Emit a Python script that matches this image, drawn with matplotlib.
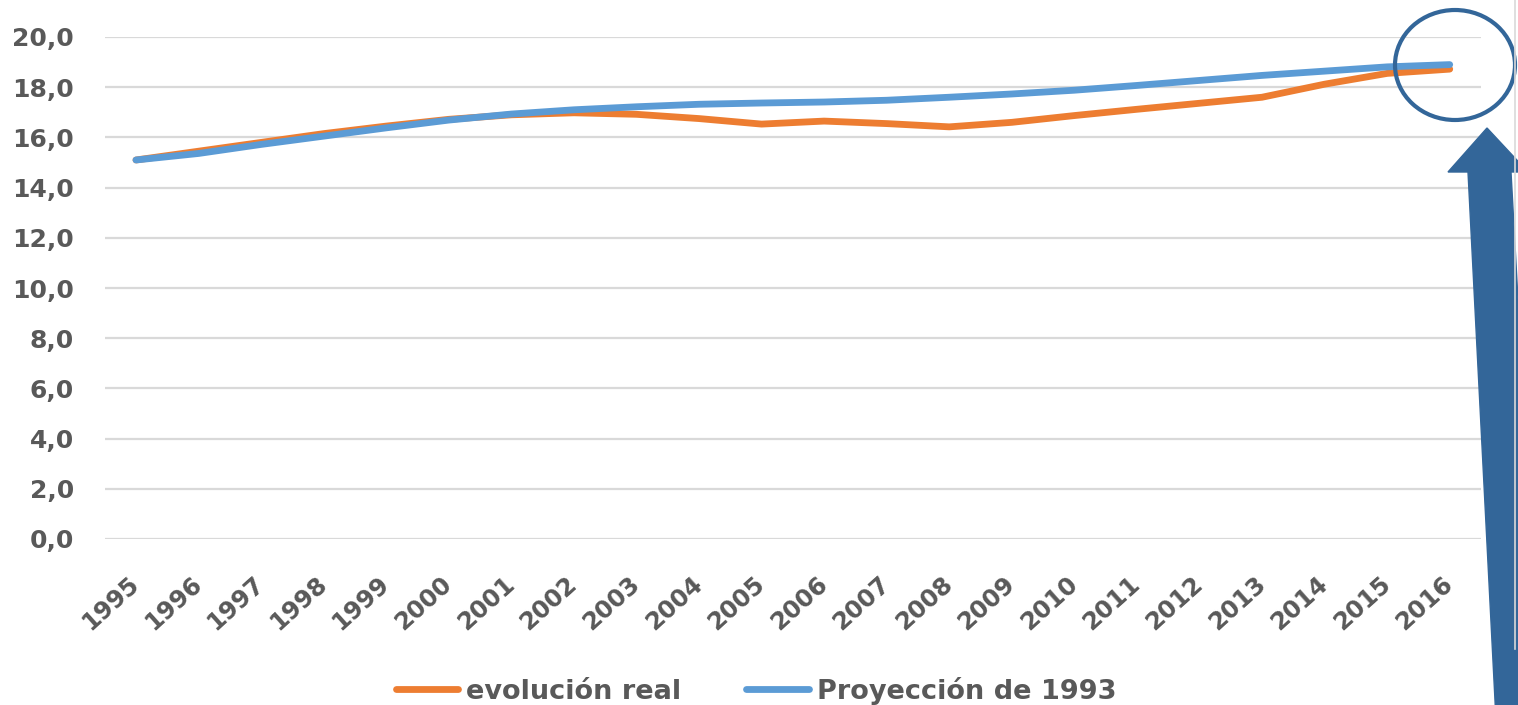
import matplotlib
matplotlib.use("Agg")
from matplotlib import pyplot as plt
from matplotlib.patches import Ellipse, Polygon
from matplotlib.lines import Line2D

years = [str(y) for y in range(1995, 2017)]
real = [15.1, 15.45, 15.8, 16.15, 16.45, 16.72, 16.9, 16.98, 16.92, 16.75, 16.53,
        16.65, 16.55, 16.42, 16.6, 16.87, 17.12, 17.36, 17.6, 18.12, 18.55, 18.72]
proy = [15.1, 15.36, 15.72, 16.05, 16.38, 16.69, 16.93, 17.1, 17.22, 17.32, 17.37,
        17.41, 17.48, 17.6, 17.73, 17.88, 18.07, 18.27, 18.47, 18.64, 18.81, 18.9]
yticks = [0, 2, 4, 6, 8, 10, 12, 14, 16, 18, 20]
ylabels = ['%d,0' % v for v in yticks]

plt.rcParams['font.family'] = ['DejaVu Sans']
plt.rcParams['font.weight'] = 'bold'
grey = '#595959'

W, H = 1518, 705
fig = plt.figure(figsize=(W / 100, H / 100), dpi=100)
ax = fig.add_axes([104.7 / W, 1 - 539 / H, (1481 - 104.7) / W, (539 - 37) / H])

x = list(range(len(years)))
ax.plot(x, real, color='#ED7D31', lw=4.9, solid_capstyle='round', label='evolución real', zorder=3)
ax.plot(x, proy, color='#5B9BD5', lw=4.9, solid_capstyle='round', label='Proyección de 1993', zorder=4)

ax.set_xlim(-0.5, len(years) - 0.5)
ax.set_ylim(0, 20)
ax.set_yticks(yticks)
ax.set_yticklabels(ylabels)
ax.set_xticks(x)
ax.set_xticklabels(years, rotation=42, ha='right', va='center', rotation_mode='anchor')
ax.tick_params(axis='y', length=0, pad=22, labelsize=18, labelcolor=grey)
ax.tick_params(axis='x', length=0, pad=30, labelsize=17.5, labelcolor=grey)
ax.grid(axis='y', color='#d9d9d9', lw=1.6)
ax.set_axisbelow(True)
for s in ax.spines.values():
    s.set_visible(False)

fig.legend(loc='center', bbox_to_anchor=(0.498, 0.02), ncol=2, frameon=False,
           fontsize=19.5, handlelength=2.3, handletextpad=0.3, columnspacing=2.4,
           labelcolor=grey)

# border line at the right edge
fig.add_artist(Line2D([1515 / W, 1515 / W], [0.08, 1], color='#d9d9d9', lw=1.2))

# circle highlighting the end of the series
fig.add_artist(Ellipse((1455 / W, 1 - 65 / H), 120 / W, 110 / H,
                       transform=fig.transFigure, fill=False, ec='#336699', lw=3))

# big arrow pointing to the circle
pts = [(1487, 128), (1448, 172), (1468, 172), (1496, 720), (1541, 720),
       (1511, 172), (1528, 172)]
fig.add_artist(Polygon([(px / W, 1 - py / H) for px, py in pts], closed=True,
                       transform=fig.transFigure, fc='#336699', ec='#336699', lw=1))

plt.savefig('out.png', dpi=100)
